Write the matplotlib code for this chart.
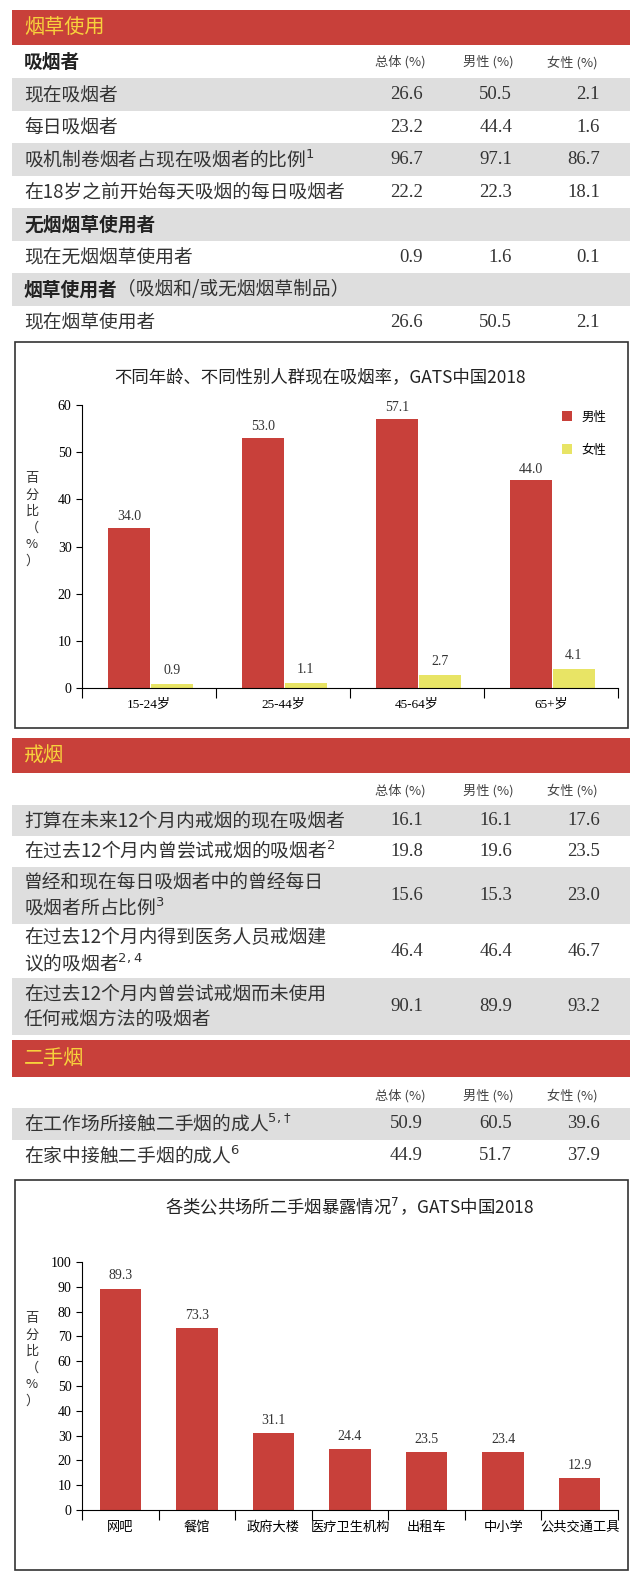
import matplotlib
matplotlib.use("Agg")
import matplotlib.pyplot as plt
from matplotlib.patches import Rectangle

plt.rcParams['font.family'] = ['Noto Sans CJK SC', 'DejaVu Sans']
SER = ['Liberation Serif', 'Noto Sans CJK SC']

W, H = 642, 1590
RED = '#c8403a'
YEL = '#e8e465'
GRAY = '#dedede'
HTXT = '#f7d23c'

# ---- data ----
cols = ['总体 (%)', '男性 (%)', '女性 (%)']
use_rows = [
    ('吸烟者', None, 'head'),
    ('现在吸烟者', ('26.6', '50.5', '2.1'), 'row'),
    ('每日吸烟者', ('23.2', '44.4', '1.6'), 'row'),
    ('吸机制卷烟者占现在吸烟者的比例$^{1}$', ('96.7', '97.1', '86.7'), 'row'),
    ('在18岁之前开始每天吸烟的每日吸烟者', ('22.2', '22.3', '18.1'), 'row'),
    ('无烟烟草使用者', None, 'bold'),
    ('现在无烟烟草使用者', ('0.9', '1.6', '0.1'), 'row'),
    ('烟草使用者（吸烟和/或无烟烟草制品）', None, 'bold'),
    ('现在烟草使用者', ('26.6', '50.5', '2.1'), 'row'),
]
quit_rows = [
    ('打算在未来12个月内戒烟的现在吸烟者', ('16.1', '16.1', '17.6')),
    ('在过去12个月内曾尝试戒烟的吸烟者$^{2}$', ('19.8', '19.6', '23.5')),
    ('曾经和现在每日吸烟者中的曾经每日\n吸烟者所占比例$^{3}$', ('15.6', '15.3', '23.0')),
    ('在过去12个月内得到医务人员戒烟建\n议的吸烟者$^{2,4}$', ('46.4', '46.4', '46.7')),
    ('在过去12个月内曾尝试戒烟而未使用\n任何戒烟方法的吸烟者', ('90.1', '89.9', '93.2')),
]
shs_rows = [
    ('在工作场所接触二手烟的成人$^{5,†}$', ('50.9', '60.5', '39.6')),
    ('在家中接触二手烟的成人$^{6}$', ('44.9', '51.7', '37.9')),
]
age_groups = ['15-24岁', '25-44岁', '45-64岁', '65+岁']
male = [34.0, 53.0, 57.1, 44.0]
female = [0.9, 1.1, 2.7, 4.1]
places = ['网吧', '餐馆', '政府大楼', '医疗卫生机构', '出租车', '中小学', '公共交通工具']
exposure = [89.3, 73.3, 31.1, 24.4, 23.5, 23.4, 12.9]

fig = plt.figure(figsize=(W/100, H/100), dpi=100)

def fx(x): return x / W
def fy(y): return 1 - y / H

def rect(x0, y0, x1, y1, fc, ec='none', lw=0):
    fig.patches.append(Rectangle((fx(x0), fy(y1)), fx(x1) - fx(x0), (y1 - y0) / H,
                                 transform=fig.transFigure, fc=fc, ec=ec, lw=lw, zorder=0))

def txt(x, y, s, **kw):
    fig.text(fx(x), fy(y), s, zorder=10, **kw)

VX = [423, 512, 600]
HX = [400, 488, 572]

def header(y0, y1, title):
    rect(12, y0, 630, y1, RED)
    txt(24, (y0 + y1) / 2, title, fontsize=14.5, color=HTXT, va='center', ha='left')

def colhead(y):
    for hx, c in zip(HX, cols):
        txt(hx, y, c, fontsize=9.5, color='#444', va='center', ha='center')

def values(y, vals):
    for vx, v in zip(VX, vals):
        txt(vx, y, v, fontsize=13.5, color='#333', va='center', ha='right', family=SER)

# --- section 1 ---
header(10, 45, '烟草使用')
y = 46
for i, (lab, vals, kind) in enumerate(use_rows):
    h = 32.5
    if i % 2 == 1:
        rect(12, y, 630, y + h, GRAY)
    yc = y + h / 2
    if kind == 'head':
        txt(24, yc, lab, fontsize=13.5, fontweight='bold', va='center', color='#222')
        colhead(yc)
    elif kind == 'bold':
        if '（' in lab:
            a, b = lab.split('（', 1)
            txt(24, yc, a, fontsize=13.5, fontweight='bold', va='center', color='#222')
            txt(24 + 18.5 * len(a), yc, '（' + b, fontsize=13.5, va='center', color='#333')
        else:
            txt(24, yc, lab, fontsize=13.5, fontweight='bold', va='center', color='#222')
    else:
        txt(24, yc, lab, fontsize=13.5, va='center', color='#333')
        values(yc, vals)
    y += h

# --- chart 1 ---
rect(15, 342, 628, 728, 'white', ec='#333', lw=1.2)
txt(320, 377, '不同年龄、不同性别人群现在吸烟率，GATS中国2018', fontsize=12.5, ha='center', va='center', color='#222')
ax = fig.add_axes([fx(82), fy(688), fx(618) - fx(82), (688 - 405) / H])
ax.set_zorder(5); ax.patch.set_alpha(0)
xs = range(len(age_groups))
bw = 0.31
ax.bar([i - 0.15 for i in xs], male, bw, color=RED, label='男性')
ax.bar([i + 0.17 for i in xs], female, bw, color=YEL, label='女性')
for i in xs:
    ax.text(i - 0.15, male[i] + 1, f'{male[i]:.1f}', ha='center', va='bottom', fontsize=10, family=SER, color='#333')
    ax.text(i + 0.17, female[i] + 1.5, f'{female[i]:.1f}', ha='center', va='bottom', fontsize=10, family=SER, color='#333')
ax.set_xlim(-0.5, 3.5); ax.set_ylim(0, 60)
ax.set_yticks(range(0, 61, 10))
ax.set_yticklabels([str(v) for v in range(0, 61, 10)], family=SER, fontsize=10)
ax.set_xticks([-0.5, 0.5, 1.5, 2.5, 3.5]); ax.set_xticklabels([])
ax.set_xticks(list(xs), minor=True)
ax.set_xticklabels(age_groups, minor=True, fontsize=9.5, family=SER)
ax.tick_params(axis='x', which='minor', length=0, pad=8)
ax.tick_params(axis='x', which='major', length=7, direction='out')
ax.tick_params(axis='y', length=4)
for s in ['top', 'right']: ax.spines[s].set_visible(False)
ax.legend(loc='upper right', frameon=False, fontsize=9, handlelength=0.8, handleheight=0.8,
          labelspacing=1.6, bbox_to_anchor=(1.0, 1.02))
txt(32, 520, '百\n分\n比\n（\n%\n）', fontsize=9.5, ha='center', va='center', linespacing=1.35, color='#333')

# --- section 2 ---
header(738, 773, '戒烟')
colhead(791)
y = 805
heights = [31, 31, 57, 54, 57]
for i, ((lab, vals), h) in enumerate(zip(quit_rows, heights)):
    if i % 2 == 0:
        rect(12, y, 630, y + h, GRAY)
    yc = y + h / 2
    txt(24, yc, lab, fontsize=13.5, va='center', color='#333', linespacing=1.3)
    values(yc, vals)
    y += h

# --- section 3 ---
header(1040, 1077, '二手烟')
colhead(1096)
y = 1108
for i, (lab, vals) in enumerate(shs_rows):
    h = 32
    if i % 2 == 0:
        rect(12, y, 630, y + h, GRAY)
    yc = y + h / 2
    txt(24, yc, lab, fontsize=13.5, va='center', color='#333')
    values(yc, vals)
    y += h

# --- chart 2 ---
rect(15, 1180, 628, 1570, 'white', ec='#333', lw=1.2)
txt(350, 1206, '各类公共场所二手烟暴露情况$^{7}$，GATS中国2018', fontsize=12.5, ha='center', va='center', color='#222')
ax2 = fig.add_axes([fx(82), fy(1510), fx(618) - fx(82), (1510 - 1262) / H])
ax2.set_zorder(5); ax2.patch.set_alpha(0)
xs2 = range(len(places))
ax2.bar(list(xs2), exposure, 0.54, color=RED)
for i in xs2:
    ax2.text(i, exposure[i] + 2.5, f'{exposure[i]:.1f}', ha='center', va='bottom', fontsize=10, family=SER, color='#333')
ax2.set_xlim(-0.5, 6.5); ax2.set_ylim(0, 100)
ax2.set_yticks(range(0, 101, 10))
ax2.set_yticklabels([str(v) for v in range(0, 101, 10)], family=SER, fontsize=10)
ax2.set_xticks([i - 0.5 for i in range(8)]); ax2.set_xticklabels([])
ax2.set_xticks(list(xs2), minor=True)
ax2.set_xticklabels(places, minor=True, fontsize=9.5)
ax2.tick_params(axis='x', which='minor', length=0, pad=8)
ax2.tick_params(axis='x', which='major', length=7, direction='out')
ax2.tick_params(axis='y', length=4)
for s in ['top', 'right']: ax2.spines[s].set_visible(False)
txt(32, 1360, '百\n分\n比\n（\n%\n）', fontsize=9.5, ha='center', va='center', linespacing=1.35, color='#333')

fig.savefig('out.png', dpi=100)
